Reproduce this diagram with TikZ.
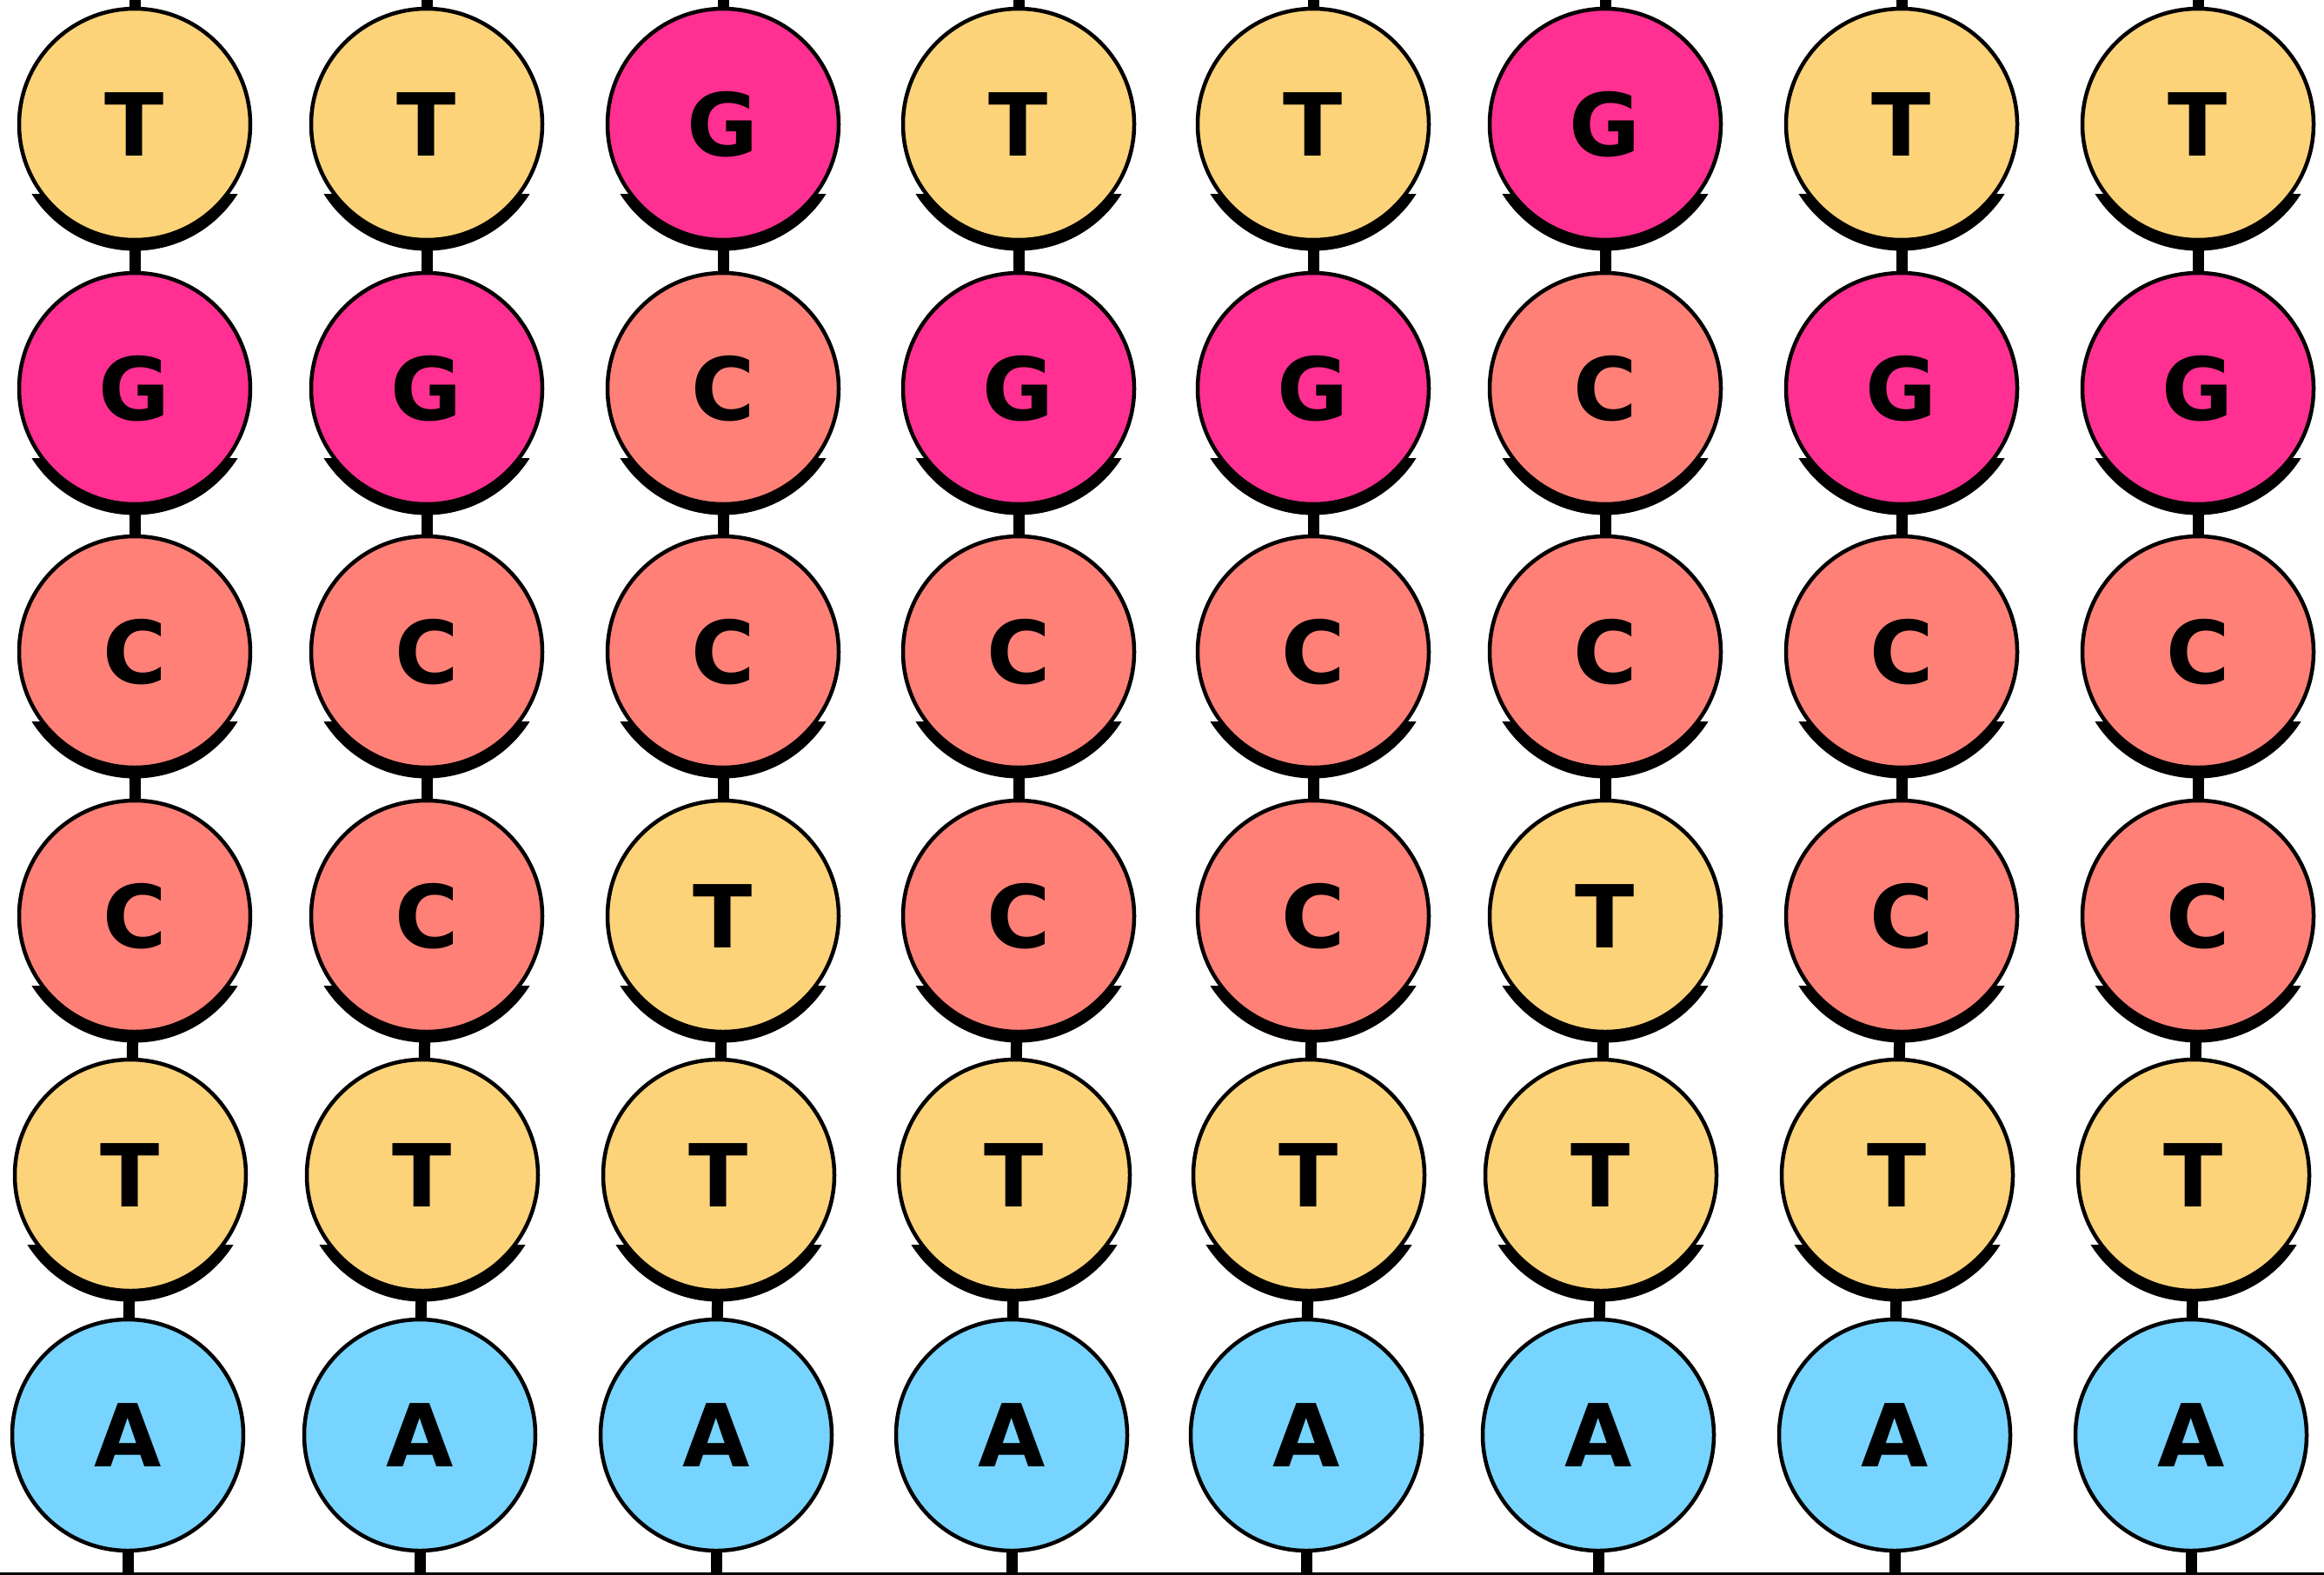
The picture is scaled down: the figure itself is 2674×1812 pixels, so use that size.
\documentclass[tikz,border=0pt]{standalone}
\usepackage{fontspec}
\setmainfont{DejaVu Sans}
\usetikzlibrary{backgrounds}
\definecolor{cT}{HTML}{FDD379}
\definecolor{cG}{HTML}{FF3092}
\definecolor{cC}{HTML}{FF8077}
\definecolor{cA}{HTML}{77D4FF}
\tikzset{
  base/.style={circle, draw=black, line width=4.5pt, minimum size=266pt, inner sep=0pt,
    font=\fontsize{100}{100}\selectfont\bfseries, text=black},
  baseT/.style={base, fill=cT},
  baseG/.style={base, fill=cG},
  baseC/.style={base, fill=cC},
  baseA/.style={base, fill=cA},
  conn/.style={line width=13pt},
  shade/.style={fill=black}
}
\begin{document}
\begin{tikzpicture}[x=1pt,y=-1pt]
\useasboundingbox (0,0) rectangle (2674,1812);
% row 1
\foreach \c/\x/\L in {1/155/T,2/491/T,3/832/G,4/1172/T,5/1511/T,6/1847/G,7/2188/T,8/2529/T}
  \node[base\L] (n-1-\c) at (\x,143) {\L};
% row 2
\foreach \c/\x/\L in {1/155/G,2/491/G,3/832/C,4/1172/G,5/1511/G,6/1847/C,7/2188/G,8/2529/G}
  \node[base\L] (n-2-\c) at (\x,447) {\L};
% row 3
\foreach \c/\x/\L in {1/155/C,2/491/C,3/832/C,4/1172/C,5/1511/C,6/1847/C,7/2188/C,8/2529/C}
  \node[base\L] (n-3-\c) at (\x,750) {\L};
% row 4
\foreach \c/\x/\L in {1/155/C,2/491/C,3/832/T,4/1172/C,5/1511/C,6/1847/T,7/2188/C,8/2529/C}
  \node[base\L] (n-4-\c) at (\x,1054) {\L};
% row 5
\foreach \c/\x/\L in {1/150/T,2/486/T,3/827/T,4/1167/T,5/1506/T,6/1842/T,7/2183/T,8/2524/T}
  \node[base\L] (n-5-\c) at (\x,1352) {\L};
% row 6
\foreach \c/\x/\L in {1/147/A,2/483/A,3/824/A,4/1164/A,5/1503/A,6/1839/A,7/2180/A,8/2521/A}
  \node[base\L] (n-6-\c) at (\x,1651) {\L};
% free ends
\foreach \c/\x in {1/155,2/491,3/832,4/1172,5/1511,6/1847,7/2188,8/2529}
  \coordinate (top-\c) at (\x,0);
\foreach \c/\x in {1/147,2/483,3/824,4/1164,5/1503,6/1839,7/2180,8/2521}
  \coordinate (bot-\c) at (\x,1810);
\begin{scope}[on background layer]
  \foreach \c in {1,...,8} {
    \draw[conn] (top-\c) -- (n-1-\c.center);
    \draw[conn] (n-1-\c.center) -- (n-2-\c.center);
    \draw[conn] (n-2-\c.center) -- (n-3-\c.center);
    \draw[conn] (n-3-\c.center) -- (n-4-\c.center);
    \draw[conn] (n-4-\c.center) -- (n-5-\c.center);
    \draw[conn] (n-5-\c.center) -- (n-6-\c.center);
    \draw[conn] (n-6-\c.center) -- (bot-\c);
  }
  \foreach \r in {1,...,5} {
    \foreach \c in {1,...,8} {
      \begin{scope}
        \clip ([shift={(-160,80)}]n-\r-\c.center) rectangle ([shift={(160,170)}]n-\r-\c.center);
        \fill[shade] ([yshift=-5.5pt]n-\r-\c.center) circle[radius=140pt];
      \end{scope}
    }
  }
\end{scope}
\coordinate (bl) at (0,1810);
\coordinate (br) at (2674,1810);
\draw[line width=3pt] (bl) -- (br);
\end{tikzpicture}
\end{document}
